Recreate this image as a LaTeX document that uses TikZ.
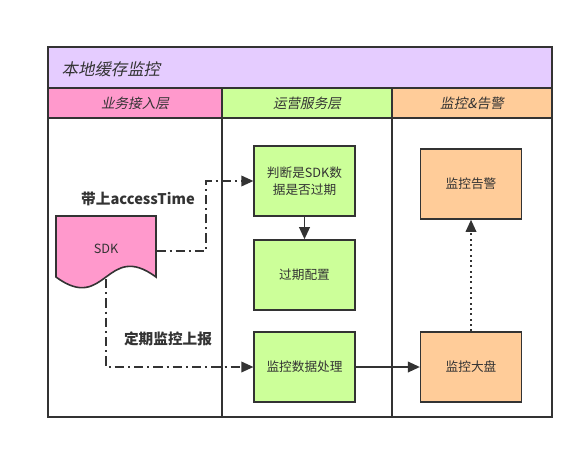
\documentclass[tikz,border=0pt]{standalone}
\usepackage{fontspec}
\setmainfont{Noto Sans CJK SC}
\newfontfamily\cjkit{Noto Sans CJK SC}[FakeSlant=0.2]
\usetikzlibrary{arrows.meta,calc}
\definecolor{ink}{HTML}{333333}
\definecolor{titlebg}{HTML}{E5CCFF}
\definecolor{pinkbg}{HTML}{FF99CC}
\definecolor{greenbg}{HTML}{CCFF99}
\definecolor{orangebg}{HTML}{FFCC99}
\tikzset{
  frame/.style={draw=ink,line width=1.5pt},
  stepbox/.style={draw=ink,line width=1.2pt,minimum width=75.5pt,minimum height=52.5pt,inner sep=2pt,align=center,font=\fontsize{9.5pt}{12.5pt}\selectfont,text=ink},
  gbox/.style={stepbox,fill=greenbg},
  obox/.style={stepbox,fill=orangebg},
  hdr/.style={font=\cjkit\fontsize{10.2pt}{12pt}\selectfont,text=ink},
  tip/.style={-{Triangle[length=9pt,width=8pt,fill=ink]}},
  dashdot/.style={draw=ink,line width=1pt,dash pattern=on 7pt off 3pt on 1.5pt off 3pt},
  lbl/.style={font=\bfseries\fontsize{11pt}{13pt}\selectfont,text=ink},
}
\begin{document}
\begin{tikzpicture}[x=0.75pt,y=-0.75pt]
\useasboundingbox (0,0) rectangle (584,450);
% backgrounds
\fill[titlebg] (48,47) rectangle (552,88);
\fill[pinkbg] (48,88) rectangle (222,118);
\fill[greenbg] (222,88) rectangle (392,118);
\fill[orangebg] (392,88) rectangle (552,118);
\draw[frame] (48,47) rectangle (552,417);
\draw[frame] (48,88) -- (552,88);
\draw[frame] (48,118) -- (552,118);
\draw[frame] (222,88) -- (222,417);
\draw[frame] (392,88) -- (392,417);
\node[anchor=west,font=\cjkit\fontsize{12.3pt}{14pt}\selectfont,text=ink] (title) at (57,69) {本地缓存监控};
\node[hdr] (h1) at (135,103) {业务接入层};
\node[hdr] (h2) at (307,103) {运营服务层};
\node[hdr] (h3) at (472,103) {监控\&告警};
% SDK document shape
\draw[draw=ink,line width=1.2pt,fill=pinkbg] (56,216) -- (156,216) -- (156,277)
  .. controls (106,240) and (106,314) .. (56,277) -- cycle;
\node[minimum width=75pt,minimum height=52.5pt,inner sep=0pt,text=ink,font=\fontsize{9.5pt}{11pt}\selectfont] (sdk) at (106,251) {\raisebox{3pt}{SDK}};
\coordinate (sdkb) at (106,279);
% boxes
\node[gbox] (judge) at (304.5,181) {判断是SDK数\\据是否过期};
\node[gbox] (expire) at (304.5,275) {过期配置};
\node[gbox] (proc) at (304.5,367) {监控数据处理};
\node[obox] (alarm) at (471,184) {监控告警};
\node[obox] (board) at (471,367) {监控大盘};
% connectors
\coordinate (c1) at (206,251);
\coordinate (c2) at (206,181);
\draw[dashdot,tip] (sdk.east) -- (c1) -- (c2) -- (judge.west);
\coordinate (c3) at (106,367);
\draw[dashdot,tip] (sdkb) -- (c3) -- (proc.west);
\draw[draw=ink,line width=1.2pt,tip] (judge.south) -- (expire.north);
\draw[draw=ink,line width=1.2pt,tip] (proc.east) -- (board.west);
\draw[draw=ink,line width=1pt,dash pattern=on 1.5pt off 2.5pt,tip] (board.north) -- (alarm.south);
\node[lbl] (l1) at (138,199) {带上accessTime};
\node[lbl] (l2) at (168,339) {定期监控上报};
\end{tikzpicture}
\end{document}
